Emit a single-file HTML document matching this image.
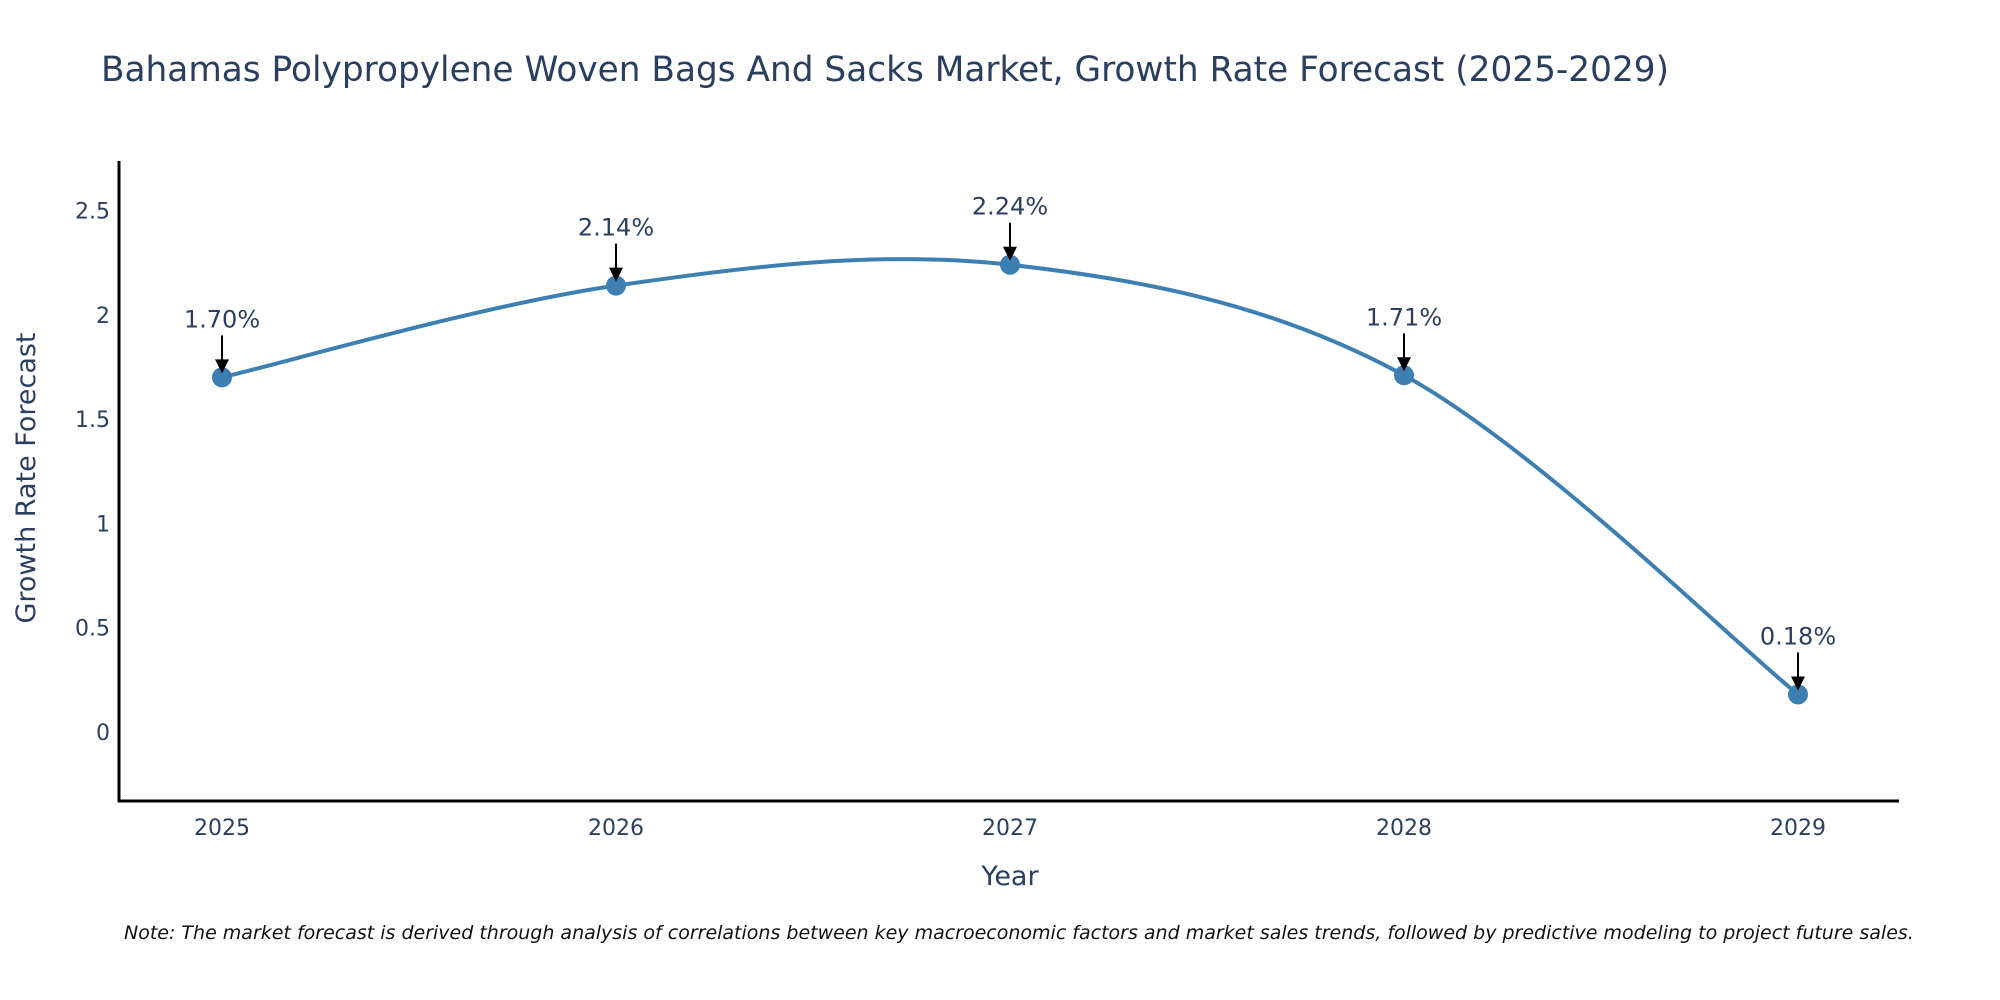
<!DOCTYPE html>
<html><head><meta charset="utf-8"><style>
body{margin:0;background:#fff;}
svg{display:block;font-family:"DejaVu Sans","Liberation Sans",sans-serif;}
</style></head><body>
<svg id="chart" width="2000" height="1000" viewBox="0 0 2000 1000">
<rect width="2000" height="1000" fill="#fff"/>
<text x="101" y="81" font-size="35" fill="#2a3f5f" textLength="1568" lengthAdjust="spacingAndGlyphs">Bahamas Polypropylene Woven Bags And Sacks Market, Growth Rate Forecast (2025-2029)</text>
<g id="yticks"></g>
<g id="xticks"></g>
<line x1="119" y1="161" x2="119" y2="802" stroke="#000" stroke-width="3"/>
<line x1="118" y1="801" x2="1899" y2="801" stroke="#000" stroke-width="3"/>
<text transform="translate(35,478) rotate(-90)" text-anchor="middle" font-size="27" fill="#2a3f5f">Growth Rate Forecast</text>
<text x="1010" y="885" text-anchor="middle" font-size="27" fill="#2a3f5f">Year</text>
<g id="plot"></g>
<text x="124" y="939" font-size="19" font-style="italic" fill="#111">Note: The market forecast is derived through analysis of correlations between key macroeconomic factors and market sales trends, followed by predictive modeling to project future sales.</text>
</svg>
<script>
const years = [2025, 2026, 2027, 2028, 2029];
const growth = [1.70, 2.14, 2.24, 1.71, 0.18];
const labels = ["1.70%", "2.14%", "2.24%", "1.71%", "0.18%"];
const yTickVals = [0, 0.5, 1, 1.5, 2, 2.5];
const yTickLabels = ["0", "0.5", "1", "1.5", "2", "2.5"];

const NS = "http://www.w3.org/2000/svg";
const X0 = 222, XSTEP = 394;
const Y0 = 732, YPER = 208.6;
function xs(i){ return X0 + i*XSTEP; }
function ys(v){ return Y0 - v*YPER; }
function mk(tag, attrs, parent, text){
  const e = document.createElementNS(NS, tag);
  for (const k in attrs) e.setAttribute(k, attrs[k]);
  if (text !== undefined) e.textContent = text;
  parent.appendChild(e); return e;
}
const yt = document.getElementById('yticks');
yTickVals.forEach((v, i) => {
  const t = mk('text', {x: 110, y: ys(v) + 8, 'text-anchor': 'end', 'font-size': 22, fill: '#2a3f5f'}, yt, yTickLabels[i]);
  
  
});
const xt = document.getElementById('xticks');
years.forEach((y, i) => {
  const t = mk('text', {x: xs(i), y: 835, 'text-anchor': 'middle', 'font-size': 22, fill: '#2a3f5f'}, xt, String(y));
  
  
});
const plot = document.getElementById('plot');
const pts = growth.map((v, i) => [xs(i), ys(v)]);
let d = `M${pts[0][0]},${pts[0][1]}`;
for (let i = 0; i < pts.length - 1; i++) {
  const p0 = pts[Math.max(0, i-1)], p1 = pts[i], p2 = pts[i+1], p3 = pts[Math.min(pts.length-1, i+2)];
  const t = 1/6;
  const c1 = [p1[0] + (p2[0]-p0[0])*t, p1[1] + (p2[1]-p0[1])*t];
  const c2 = [p2[0] - (p3[0]-p1[0])*t, p2[1] - (p3[1]-p1[1])*t];
  d += ` C${c1[0]},${c1[1]} ${c2[0]},${c2[1]} ${p2[0]},${p2[1]}`;
}
const line = mk('path', {d: d, fill: 'none', stroke: '#3d7fb0', 'stroke-width': 4}, plot);


pts.forEach((p, i) => {
  const c = mk('circle', {cx: p[0], cy: p[1], r: 10, fill: '#3d7fb0'}, plot);
  
  
  const a = mk('line', {x1: p[0], y1: p[1] - 42, x2: p[0], y2: p[1] - 14, stroke: '#000', 'stroke-width': 2}, plot);
  
  
  const h = mk('polygon', {points: `${p[0]-7},${p[1]-18} ${p[0]+7},${p[1]-18} ${p[0]},${p[1]-4}`, fill: '#000'}, plot);
  
  
  const l = mk('text', {x: p[0], y: p[1] - 50, 'text-anchor': 'middle', 'font-size': 24, fill: '#2a3f5f'}, plot, labels[i]);
  
  
});
</script>
</body></html>
